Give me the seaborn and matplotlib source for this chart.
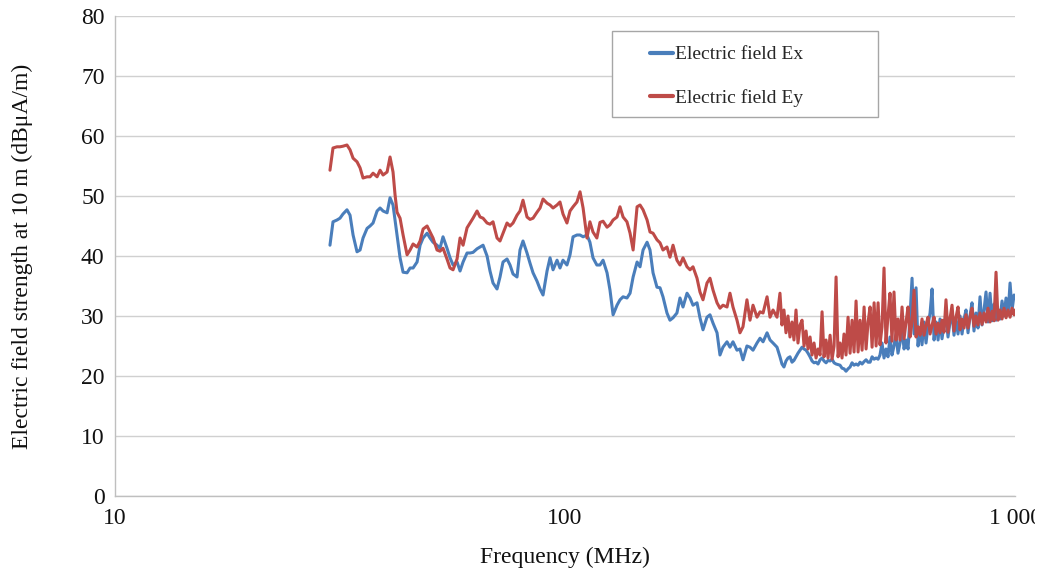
import matplotlib
matplotlib.use("Agg")
import matplotlib.pyplot as plt
from matplotlib.patches import Rectangle
from matplotlib.lines import Line2D
from matplotlib.transforms import Bbox, TransformedBbox
import seaborn as sns
import pandas as pd

# Frequency grid (MHz)
freq_mhz = [
    30.04, 30.51, 31.14, 31.62, 32.11, 32.77, 33.29, 33.81, 34.50,
    35.04, 35.58, 36.32, 36.88, 37.45, 38.23, 38.82, 39.42, 40.24,
    40.85, 41.48, 41.91, 42.34, 43.00, 43.67, 44.57, 45.26, 45.96, 46.91,
    47.64, 48.38, 49.38, 50.12, 50.90, 51.95, 52.75, 53.57, 54.67,
    55.53, 56.39, 57.56, 58.45, 59.36, 60.58, 61.51, 62.46, 63.76,
    64.75, 65.75, 67.11, 68.13, 69.19, 70.62, 71.71, 72.82, 74.33,
    75.48, 76.65, 78.23, 79.43, 80.66, 82.33, 83.61, 84.91, 86.66,
    88.01, 89.37, 91.22, 92.63, 94.07, 96.01, 97.47, 98.98, 101.0,
    102.6, 104.2, 106.3, 108.0, 109.7, 111.9, 113.6, 115.4, 117.7,
    119.6, 121.5, 124.0, 125.9, 127.9, 130.5, 132.5, 134.6, 137.3,
    139.5, 141.7, 144.6, 146.8, 149.1, 152.2, 154.5, 156.9, 160.1,
    162.6, 165.1, 168.5, 171.1, 173.8, 177.3, 180.1, 182.9, 186.7,
    189.6, 192.5, 196.5, 199.5, 202.6, 206.8, 210.0, 213.3, 217.7,
    221.0, 224.4, 229.1, 232.6, 236.2, 241.1, 244.8, 248.6, 253.7,
    257.7, 261.7, 267.1, 271.3, 275.5, 281.2, 285.5, 289.9, 295.9,
    300.4, 303.5, 306.6, 309.8, 313.0, 316.2, 319.5, 322.7, 326.1, 329.4,
    332.9, 336.3, 339.8, 343.3, 346.8, 350.4, 354.0, 357.6, 361.3, 365.0,
    368.8, 372.6, 376.4, 380.3, 384.2, 388.2, 392.2, 396.2, 400.3, 404.4,
    408.5, 412.7, 416.9, 421.2, 425.6, 430.0, 434.4, 438.9, 443.4, 448.0,
    452.6, 457.3, 462.0, 466.7, 471.5, 476.4, 481.3, 486.3, 491.3, 496.3,
    501.2, 506.4, 511.6, 516.8, 522.1, 527.5, 532.9, 538.4, 543.9, 549.5,
    555.3, 561.0, 566.8, 572.6, 578.5, 584.5, 590.5, 596.6, 602.7, 608.9,
    615.1, 621.4, 627.8, 634.3, 640.8, 647.5, 654.2, 660.9, 667.7, 674.6,
    681.3, 688.3, 695.4, 702.5, 709.8, 717.1, 724.5, 731.9, 739.5, 747.1,
    754.8, 762.6, 770.4, 778.3, 786.3, 794.3, 802.5, 810.7, 819.1, 827.5,
    836.1, 844.7, 853.4, 862.2, 871.0, 880.1, 889.2, 898.3, 907.5, 916.9,
    926.3, 935.8, 945.4, 955.2, 965.0, 975.0, 985.0, 995.2, 1000.0,
]

# Electric field Ex (dBuA/m)
ex_values = [
    41.8, 45.7, 46.0, 46.3, 47.0, 47.7, 46.8, 43.5, 40.7,
    41.0, 43.0, 44.6, 45.0, 45.5, 47.5, 48.0, 47.5, 47.2,
    49.7, 48.5, 46.0, 43.5, 39.7, 37.3, 37.2, 38.0, 38.0, 39.0,
    41.8, 43.0, 43.8, 43.0, 42.3, 41.8, 41.3, 43.2, 41.3,
    39.7, 38.5, 39.0, 37.5, 39.0, 40.5, 40.5, 40.6, 41.2,
    41.5, 41.8, 40.0, 37.5, 35.5, 34.5, 36.5, 39.0, 39.5,
    38.5, 37.0, 36.5, 41.0, 42.5, 40.5, 38.8, 37.2, 35.8,
    34.5, 33.5, 37.5, 39.7, 37.7, 39.3, 38.0, 39.3, 38.5,
    40.2, 43.2, 43.5, 43.5, 43.2, 43.5, 42.3, 39.7, 38.5,
    38.5, 39.3, 37.2, 34.3, 30.2, 31.8, 32.7, 33.2, 33.0,
    33.8, 36.5, 39.0, 38.2, 41.0, 42.3, 41.0, 37.2, 34.8,
    34.7, 33.2, 30.5, 29.3, 29.7, 30.5, 33.0, 31.5, 33.8,
    33.0, 31.8, 32.2, 29.7, 27.7, 29.8, 30.2, 28.8, 27.2,
    23.5, 24.8, 25.7, 24.8, 25.7, 24.3, 24.5, 22.7, 25.0,
    24.8, 24.3, 25.5, 26.3, 25.7, 27.2, 26.0, 25.5, 24.8,
    23.2, 22.0, 21.5, 22.5, 23.0, 23.2, 22.3, 22.6, 23.2, 23.8,
    24.3, 24.8, 24.5, 24.3, 23.8, 23.2, 22.5, 22.2, 22.3, 22.0,
    22.7, 23.0, 22.5, 22.2, 22.6, 22.5, 22.8, 22.2, 22.0, 21.9,
    21.8, 21.3, 21.2, 20.8, 21.2, 21.5, 22.2, 21.8, 22.0, 21.8,
    22.3, 22.0, 22.4, 22.7, 22.3, 22.3, 23.2, 22.8, 23.0, 22.8,
    23.5, 25.5, 23.0, 24.5, 23.2, 26.5, 23.5, 25.0, 27.0, 23.8,
    25.5, 28.0, 24.5, 26.0, 24.5, 30.0, 36.3, 27.0, 34.7, 25.0,
    28.0, 25.2, 29.0, 25.5, 28.5, 30.5, 34.5, 26.0, 29.0, 26.0,
    29.5, 26.2, 28.5, 30.0, 26.5, 29.0, 30.5, 26.8, 29.5, 27.0,
    30.0, 27.0, 29.5, 31.0, 27.2, 30.0, 32.2, 27.5, 30.5, 28.0,
    33.2, 28.5, 31.0, 34.0, 29.0, 33.8, 29.2, 32.0, 29.3, 31.0,
    29.5, 32.5, 30.0, 33.0, 30.2, 35.5, 31.0, 33.5, 33.0,
]

# Electric field Ey (dBuA/m)
ey_values = [
    54.3, 58.0, 58.2, 58.2, 58.3, 58.5, 57.7, 56.3, 55.7,
    54.7, 53.0, 53.2, 53.2, 53.8, 53.2, 54.3, 53.5, 54.0,
    56.5, 54.0, 50.2, 47.3, 46.3, 43.5, 40.2, 41.0, 42.0, 41.5,
    42.5, 44.5, 45.0, 44.0, 43.0, 41.0, 40.8, 41.3, 39.5,
    38.0, 37.7, 39.5, 43.0, 41.8, 44.7, 45.5, 46.3, 47.5,
    46.5, 46.3, 45.5, 45.3, 45.7, 43.0, 42.5, 43.8, 45.5,
    45.0, 45.5, 46.8, 47.5, 49.3, 46.5, 46.1, 46.3, 47.3,
    48.0, 49.5, 48.8, 48.5, 48.0, 48.5, 49.0, 47.0, 45.5,
    47.5, 48.2, 49.0, 50.7, 48.0, 43.0, 45.7, 44.0, 43.0,
    45.6, 45.8, 44.8, 45.2, 46.0, 46.5, 48.2, 46.5, 45.7,
    43.8, 41.0, 48.2, 48.5, 47.7, 46.0, 44.0, 43.8, 42.7,
    42.2, 41.0, 41.5, 39.8, 41.8, 39.3, 38.5, 39.7, 38.2,
    37.7, 38.2, 36.3, 34.0, 32.7, 35.5, 36.3, 34.3, 32.2,
    31.3, 31.8, 31.5, 33.8, 31.5, 29.3, 27.2, 28.2, 32.7,
    29.3, 31.8, 29.8, 30.7, 30.5, 33.2, 29.8, 31.0, 29.8,
    33.8, 28.5, 31.0, 27.2, 30.0, 26.5, 29.0, 26.0, 31.0, 25.5,
    28.5, 29.3, 25.0, 27.5, 24.5, 26.5, 23.5, 25.5, 23.0, 24.5,
    23.5, 30.7, 23.2, 26.0, 23.0, 26.8, 22.8, 25.0, 36.5, 23.2,
    25.5, 23.0, 27.0, 23.5, 29.8, 23.8, 29.3, 24.0, 32.5, 24.0,
    29.3, 24.3, 31.5, 24.5, 29.0, 31.5, 24.8, 32.2, 25.0, 32.2,
    25.2, 28.2, 38.0, 25.5, 30.0, 33.8, 25.8, 34.0, 26.0, 29.5,
    26.0, 31.5, 26.2, 29.0, 31.5, 26.5, 29.0, 34.3, 26.5, 28.2,
    26.8, 29.5, 26.8, 28.5, 29.8, 27.0, 28.5, 29.8, 27.0, 28.8,
    27.2, 29.3, 27.3, 32.7, 27.3, 29.5, 31.8, 27.5, 29.8, 31.5,
    27.7, 29.5, 28.0, 30.2, 28.0, 29.8, 31.3, 28.3, 30.0, 28.5,
    30.5, 28.6, 30.5, 29.0, 31.3, 29.0, 30.8, 29.2, 37.3, 29.3,
    31.0, 29.5, 31.3, 29.7, 31.0, 29.8, 31.3, 30.2, 31.0,
]

series_names = ["Electric field Ex", "Electric field Ey"]
x_ticks = [10, 100, 1000]
x_tick_labels = ["10", "100", "1 000"]
y_ticks = [0, 10, 20, 30, 40, 50, 60, 70, 80]

sns.set_style("white")
plt.rcParams["font.family"] = ["Liberation Serif", "DejaVu Serif"]

df = pd.concat([
    pd.DataFrame({"freq": freq_mhz, "val": ex_values, "series": series_names[0]}),
    pd.DataFrame({"freq": freq_mhz, "val": ey_values, "series": series_names[1]}),
], ignore_index=True)

fig = plt.figure(figsize=(10.45, 5.75), dpi=100)
ax = fig.add_axes([115 / 1045, 1 - 496 / 575, 900 / 1045, 480 / 575])

palette = {series_names[0]: "#4A7EBB", series_names[1]: "#BE4B48"}
sns.lineplot(data=df, x="freq", y="val", hue="series", palette=palette,
             estimator=None, sort=False, linewidth=2.2, ax=ax, legend=False)

ax.set_xscale("log")
ax.set_xlim(10, 1000)
ax.set_ylim(0, 80)
ax.set_xticks(x_ticks)
ax.set_xticklabels(x_tick_labels)
ax.xaxis.set_minor_locator(matplotlib.ticker.NullLocator())
ax.set_yticks(y_ticks)

grid_c = "#d0d0d0"
ax.yaxis.grid(True, color=grid_c, linewidth=1.0)
ax.xaxis.grid(False)
ax.set_axisbelow(True)
for s in ["top", "right"]:
    ax.spines[s].set_visible(False)
for s in ["left", "bottom"]:
    ax.spines[s].set_color("#bfbfbf")
    ax.spines[s].set_linewidth(1.0)
ax.tick_params(axis="both", which="major", direction="out", length=4.5,
               color="#bfbfbf", labelsize=17, labelcolor="#111111")
ax.tick_params(axis="x", pad=4)
ax.tick_params(axis="y", pad=3)

ax.set_xlabel("Frequency (MHz)", fontsize=17, color="#111111")
ax.set_ylabel("Electric field strength at 10 m (dBμA/m)", fontsize=17,
              color="#111111")
ax.xaxis.set_label_coords(0.5, -0.106)
ax.yaxis.set_label_coords(-0.091, 0.5)

# clip the last x tick label at the right like the original export
clip = TransformedBbox(Bbox([[0, 0], [1035 / 1045, 1]]), fig.transFigure)
for lab in ax.get_xticklabels():
    lab.set_clip_on(True)
    lab.set_clip_box(clip)

# legend box
ax.add_patch(Rectangle((0.552, 0.79), 0.296, 0.179, transform=ax.transAxes,
                       facecolor="white", edgecolor="#a6a6a6", linewidth=1.0,
                       zorder=4))
handles = [Line2D([0], [0], color=palette[n], linewidth=3) for n in series_names]
leg = ax.legend(handles, series_names, loc="upper left",
                bbox_to_anchor=(0.594, 0.938), frameon=False, fontsize=14,
                handlelength=1.2, handletextpad=0.1, labelspacing=1.3,
                borderpad=0, borderaxespad=0)
leg.set_zorder(5)

fig.savefig("out.png", dpi=100)
